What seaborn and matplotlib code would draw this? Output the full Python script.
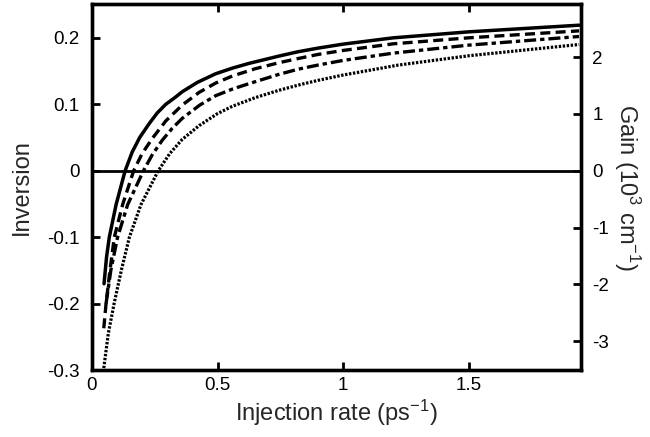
import numpy as np
import pandas as pd
import matplotlib
matplotlib.use("Agg")
import matplotlib.pyplot as plt
import seaborn as sns
from matplotlib.ticker import FixedLocator, FuncFormatter

# ---- data ----
x_solid = [0.048, 0.058, 0.069, 0.096, 0.132, 0.16, 0.19, 0.228, 0.26, 0.294, 0.33, 0.36, 0.42, 0.493,
           0.56, 0.625, 0.744, 0.82, 0.9, 1.0, 1.2, 1.5, 1.94]
y_solid = [-0.170, -0.130, -0.100, -0.051, 0.0, 0.028, 0.050, 0.071, 0.087, 0.100, 0.110, 0.119, 0.133, 0.146,
           0.1545, 0.1615, 0.1725, 0.179, 0.1845, 0.1905, 0.200, 0.209, 0.219]

x_dashed = [0.047, 0.056, 0.070, 0.089, 0.122, 0.166, 0.20, 0.241, 0.294, 0.36, 0.427, 0.493, 0.559, 0.65,
            0.744, 0.823, 0.9, 1.0, 1.2, 1.5, 1.94]
y_dashed = [-0.237, -0.200, -0.155, -0.100, -0.051, 0.0, 0.026, 0.049, 0.075, 0.099, 0.118, 0.132, 0.1425, 0.1535,
            0.1625, 0.169, 0.175, 0.181, 0.191, 0.200, 0.2105]

x_dashdot = [0.056, 0.075, 0.102, 0.142, 0.205, 0.24, 0.28, 0.32, 0.36, 0.43, 0.493, 0.56, 0.625, 0.744,
             0.823, 0.9, 1.0, 1.2, 1.5, 1.94]
y_dashdot = [-0.200, -0.150, -0.100, -0.051, 0.0, 0.024, 0.046, 0.064, 0.079, 0.099, 0.113, 0.123, 0.131, 0.145,
             0.153, 0.159, 0.166, 0.177, 0.189, 0.202]

x_dotted = [0.047, 0.065, 0.088, 0.118, 0.149, 0.195, 0.264, 0.31, 0.359, 0.427, 0.50, 0.559, 0.65, 0.744,
            0.823, 0.9, 1.0, 1.22, 1.5, 1.94]
y_dotted = [-0.297, -0.245, -0.200, -0.148, -0.100, -0.051, 0.0, 0.026, 0.047, 0.068, 0.086, 0.097, 0.110, 0.121,
            0.129, 0.136, 0.144, 0.159, 0.173, 0.190]

x_ticks = [0, 0.5, 1, 1.5]
inv_ticks = [-0.3, -0.2, -0.1, 0, 0.1, 0.2]
gain_ticks = [-3, -2, -1, 0, 1, 2]
gain_per_inversion = 11.71  # scale between the two y axes

curves = {"solid": (x_solid, y_solid), "dashed": (x_dashed, y_dashed),
          "dashdot": (x_dashdot, y_dashdot), "dotted": (x_dotted, y_dotted)}
df = pd.concat([pd.DataFrame({"x": xs, "y": ys, "curve": k}) for k, (xs, ys) in curves.items()],
               ignore_index=True)

sns.set_theme(style="white")
plt.rcParams["font.family"] = ["Liberation Sans", "DejaVu Sans"]
plt.rcParams["mathtext.fontset"] = "custom"
plt.rcParams["mathtext.rm"] = "Liberation Sans"
plt.rcParams["mathtext.it"] = "Liberation Sans"
plt.rcParams["mathtext.default"] = "regular"
plt.rcParams["axes.unicode_minus"] = False

fig = plt.figure(figsize=(6.5, 4.37), dpi=100)
ax = fig.add_axes([0.1415, 0.153, 0.7525, 0.838])

widths = {"solid": 2.5, "dashed": 2.4, "dashdot": 2.4, "dotted": 2.3}
dashes = {"solid": "", "dashed": (3.0, 1.6), "dashdot": (3.6, 1.2, 1.3, 1.2), "dotted": (0.75, 0.5)}
for k in curves:
    sub = df[df["curve"] == k]
    sns.lineplot(data=sub, x="x", y="y", ax=ax, color="black", lw=widths[k],
                 estimator=None, sort=False, legend=False)
    line = ax.lines[-1]
    line.set_solid_joinstyle("round")
    if dashes[k]:
        line.set_dashes(dashes[k])

ax.axhline(0, color="black", lw=2.0, zorder=1)

ax.set_xlim(0, 1.948)
ax.set_ylim(-0.3, 0.251)
fmt = FuncFormatter(lambda v, p: "%g" % round(v, 3))
ax.xaxis.set_major_locator(FixedLocator(x_ticks))
ax.yaxis.set_major_locator(FixedLocator(inv_ticks))
ax.xaxis.set_major_formatter(fmt)
ax.yaxis.set_major_formatter(fmt)
ax.tick_params(direction="in", length=6, width=2, labelsize=13.5, colors="black",
               top=True, bottom=True, left=True, right=False)
ax.tick_params(axis="y", pad=9)
ax.tick_params(axis="x", pad=5)
for s in ax.spines.values():
    s.set_linewidth(2.4)
    s.set_color("black")

ax.set_xlabel("Injection rate (ps$^{-1}$)", fontsize=17, labelpad=3)
ax.set_ylabel("Inversion", fontsize=17, labelpad=10)

ax2 = ax.twinx()
ax2.set_ylim(-0.3 * gain_per_inversion, 0.251 * gain_per_inversion)
ax2.yaxis.set_major_locator(FixedLocator(gain_ticks))
ax2.yaxis.set_major_formatter(fmt)
ax2.tick_params(direction="in", length=6, width=2, labelsize=13.5, colors="black", pad=8)
for s in ax2.spines.values():
    s.set_linewidth(2.4)
    s.set_color("black")
ax2.set_ylabel("Gain (10$^{3}$ cm$^{-1}$)", fontsize=17, rotation=-90, labelpad=24)
ax2.grid(False)
ax.grid(False)

fig.savefig("out.png", dpi=100)
